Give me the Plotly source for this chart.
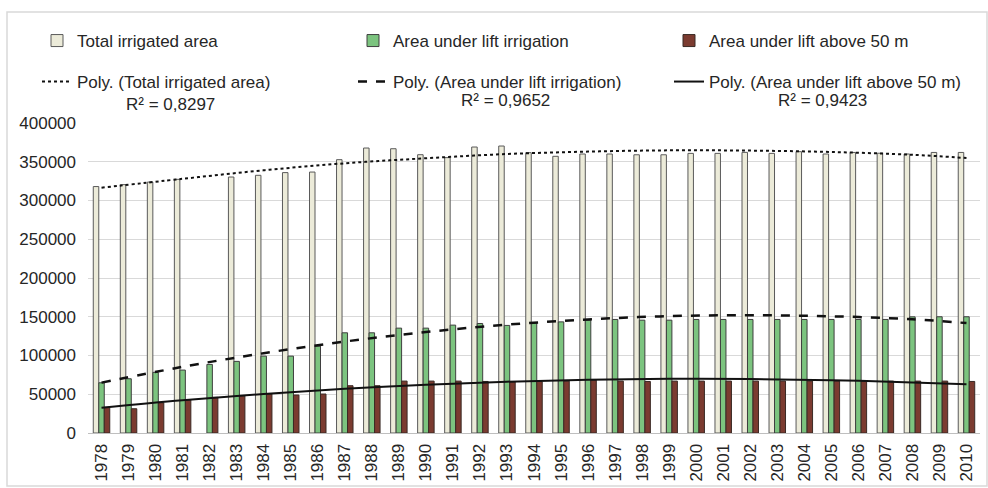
import plotly.graph_objects as go

years = [str(y) for y in range(1978, 2011)]

total_irrigated = [318000, 320500, 323800, 327300, None, 330300, 332500, 336000, 336700, 352700,
                   367700, 366800, 359100, 355300, 369000, 370300, 361700, 357000, 360000, 360000,
                   359000, 359000, 360800, 360800, 362100, 360800, 363000, 360000, 362000, 361000,
                   360000, 362000, 362000]
lift_irrigation = [64800, 70000, 78200, 81200, 88500, 92400, 99200, 99200, 112100, 129300,
                   129300, 135300, 135300, 139200, 141300, 138800, 142100, 143400, 145600, 146500,
                   145600, 145600, 146500, 146500, 146500, 146500, 146500, 146500, 146500, 146500,
                   149900, 150000, 150000]
lift_above_50 = [33100, 31300, 39000, 42500, 46000, 48100, 50300, 49000, 50300, 61000,
                 61000, 67000, 67000, 67000, 66500, 66000, 66500, 67000, 68300, 67000,
                 66500, 67000, 67000, 67000, 67000, 67000, 67000, 67000, 67000, 67000,
                 67000, 67000, 66500]

trend_years = ["1978", "1981", "1984", "1987", "1990", "1993", "1996", "1999", "2002", "2005", "2008", "2010"]
trend_total = [316500, 328000, 339000, 348000, 354500, 360000, 363100, 364700, 364400, 362600, 359000, 354800]
trend_lift = [65000, 85400, 103000, 118000, 130300, 139800, 146600, 150800, 152000, 150600, 146800, 141800]
trend_above = [32600, 42200, 50300, 57000, 62300, 66200, 68800, 69900, 69700, 68100, 65300, 62800]

r2_texts = ["R² = 0,8297", "R² = 0,9652", "R² = 0,9423"]

FONT = "Liberation Sans, Arial, sans-serif"
TXT = "#262626"

fig = go.Figure()
fig.add_trace(go.Bar(x=years, y=total_irrigated, name="Total irrigated area",
                     marker=dict(color="#ecebd9", line=dict(color="#5a5a5a", width=1)), legend="legend"))
fig.add_trace(go.Bar(x=years, y=lift_irrigation, name="Area under lift irrigation",
                     marker=dict(color="#7cc47f", line=dict(color="#3f3f3f", width=1)), legend="legend"))
fig.add_trace(go.Bar(x=years, y=lift_above_50, name="Area under lift above 50 m",
                     marker=dict(color="#7b3b30", line=dict(color="#3a2a25", width=1)), legend="legend"))

fig.add_trace(go.Scatter(x=trend_years, y=trend_total, name="Poly. (Total irrigated area)", mode="lines",
                         line=dict(color="#111111", width=2, dash="dot", shape="spline"), legend="legend2"))
fig.add_trace(go.Scatter(x=trend_years, y=trend_lift, name="Poly. (Area under lift irrigation)", mode="lines",
                         line=dict(color="#111111", width=2.5, dash="dash", shape="spline"), legend="legend2"))
fig.add_trace(go.Scatter(x=trend_years, y=trend_above, name="Poly. (Area under lift above 50 m)", mode="lines",
                         line=dict(color="#111111", width=2, shape="spline"), legend="legend2"))

L, R, T, B = 88, 8, 123, 55
W, H = 988, 488
pw, ph = W - L - R, H - T - B

def px2x(px):
    return (px - L) / pw

def py2y(py):
    return (H - B - py) / ph

legend_common = dict(orientation="h", xanchor="left", yanchor="middle", entrywidth=271,
                     entrywidthmode="pixels", font=dict(family=FONT, size=17, color=TXT),
                     bgcolor="rgba(0,0,0,0)", traceorder="normal")
fig.update_layout(
    width=W, height=H,
    margin=dict(l=L, r=R, t=T, b=B, autoexpand=False),
    paper_bgcolor="white", plot_bgcolor="white",
    barmode="group", bargap=0.39, bargroupgap=0,
    font=dict(family=FONT, size=17, color=TXT),
    legend=dict(x=px2x(37), y=py2y(41), **legend_common),
    legend2=dict(x=px2x(37), y=py2y(82), **legend_common),
    xaxis=dict(type="category", tickangle=-90, showgrid=False, showline=True, linecolor="#bfbfbf",
               linewidth=1, ticks="", ticklabelstandoff=3, automargin=False,
               tickfont=dict(family=FONT, size=17, color=TXT)),
    yaxis=dict(range=[0, 400000], dtick=50000, tickformat="d", showgrid=True, gridcolor="#d9d9d9",
               gridwidth=1, zeroline=False, showline=False, ticks="", ticklabelstandoff=11, automargin=False,
               tickfont=dict(family=FONT, size=17, color=TXT)),
    showlegend=True,
)

r2_pos = [(170, 105), (505, 101), (822, 101)]
for txt, (cx, cy) in zip(r2_texts, r2_pos):
    fig.add_annotation(x=px2x(cx), y=py2y(cy), xref="paper", yref="paper", text=txt, showarrow=False,
                       xanchor="center", yanchor="middle", font=dict(family=FONT, size=17, color=TXT))

fig.add_shape(type="rect", xref="paper", yref="paper", x0=px2x(7), x1=px2x(987), y0=py2y(486), y1=py2y(12),
              line=dict(color="#d9d9d9", width=1.5), fillcolor="rgba(0,0,0,0)", layer="below")

fig.write_html("out.html", config={"displayModeBar": False},
               post_script="document.body.style.margin='0';")
